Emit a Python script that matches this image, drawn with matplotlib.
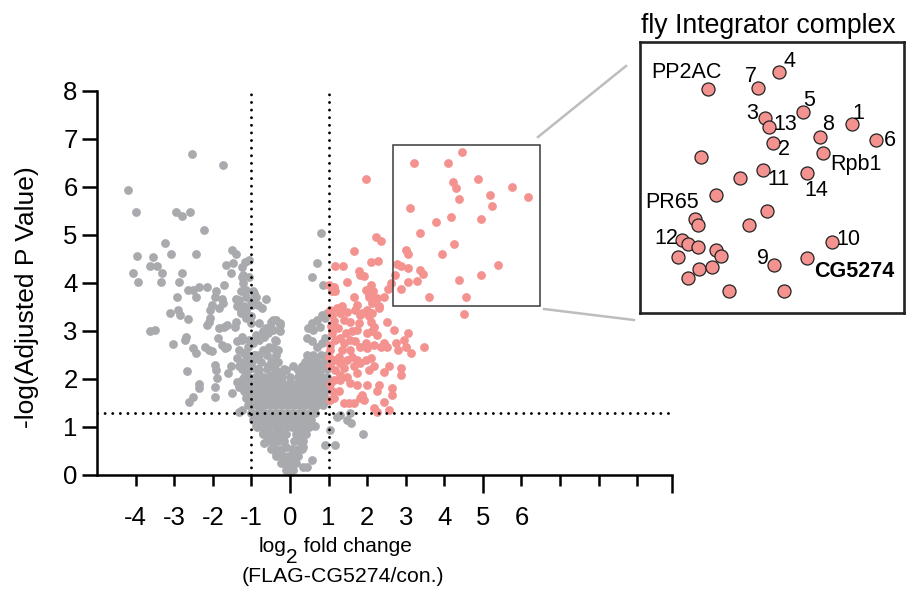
import matplotlib.pyplot as plt
from matplotlib.patches import Rectangle
from matplotlib.lines import Line2D

plt.rcParams['font.family'] = ['Liberation Sans', 'DejaVu Sans']

# not significant, spread out (log2 FC, -log p)
ns_spread = [
    (-2.53, 6.69), (-1.74, 6.46), (-4.19, 5.93), (-3.99, 5.48), (-2.94, 5.48), (-2.80, 5.40),
    (-2.60, 5.48), (-2.23, 5.10), (-3.25, 4.83), (-3.96, 4.56), (-3.56, 4.54), (-3.09, 4.60),
    (-2.43, 4.61), (-1.49, 4.68), (-1.39, 4.60), (-3.62, 4.36), (-3.45, 4.36), (-1.67, 4.37),
    (-1.47, 4.41), (-1.16, 4.44), (-1.05, 4.48), (-4.06, 4.20), (-3.31, 4.21), (-2.80, 4.21),
    (-1.54, 4.21), (-1.22, 4.17), (-3.93, 4.01), (-3.35, 4.01), (-2.87, 4.01), (-2.64, 3.85),
    (-2.51, 3.85), (-2.36, 3.92), (-2.14, 3.92), (-1.92, 3.82), (-1.70, 3.96), (-1.23, 4.13),
    (-1.21, 3.99), (-1.27, 3.82), (-0.97, 3.82), (-0.88, 3.71), (-0.62, 3.66), (-2.93, 3.71),
    (-2.43, 3.70), (-1.93, 3.71), (-1.75, 3.66), (-1.40, 3.66), (-1.32, 3.65), (-1.14, 3.71),
    (-1.01, 3.63), (-2.02, 3.54), (-2.08, 3.44), (-1.84, 3.47), (-1.74, 3.58), (-2.89, 3.44),
    (-2.84, 3.33), (-3.10, 3.37), (-2.63, 3.24), (-1.36, 3.51), (-1.27, 3.40), (-1.14, 3.44),
    (-0.98, 3.54), (-0.72, 3.47), (-2.10, 3.19), (-2.06, 3.26), (-2.15, 3.13), (-1.84, 3.06),
    (-1.71, 3.09), (-1.62, 3.13), (-1.40, 3.19), (-1.42, 3.09), (-1.14, 3.26), (-1.01, 3.16),
    (-0.79, 3.16), (-0.62, 3.06), (-0.45, 3.23), (-0.27, 3.16), (-0.49, 3.06), (-3.63, 2.99),
    (-3.50, 3.02), (-3.04, 2.72), (-2.73, 2.81), (-2.70, 2.88), (-2.51, 2.64), (-2.43, 2.55),
    (-2.19, 2.67), (-2.10, 2.60), (-2.02, 2.59), (-1.86, 2.85), (-1.75, 2.71), (-1.68, 2.64),
    (-1.62, 2.67), (-1.36, 2.78), (-1.32, 2.60), (-1.10, 2.67), (-1.05, 2.81), (-1.23, 2.88),
    (-0.88, 2.92), (-0.79, 2.81), (-0.66, 2.88), (-0.53, 2.99), (-0.40, 2.81), (-0.27, 2.99),
    (-0.45, 2.64), (-0.62, 2.60), (-0.79, 2.50), (-1.10, 2.50), (-0.97, 2.40), (-1.19, 2.36),
    (-1.36, 2.43), (-1.32, 2.26), (-1.93, 2.29), (-1.91, 2.19), (-1.88, 2.01), (-1.93, 1.84),
    (-1.60, 2.12), (-1.53, 2.26), (-2.67, 2.17), (-2.35, 1.90), (-2.36, 1.81), (-2.52, 1.63),
    (-2.61, 1.53), (-1.93, 1.62), (-1.49, 1.70), (-1.36, 1.94), (-1.32, 1.84), (-1.14, 1.70),
    (-1.10, 1.88), (-1.32, 1.32), (-0.92, 1.74), (-0.88, 1.63), (-1.01, 1.56), (-0.79, 2.05),
    (-0.62, 1.98), (-0.45, 1.84), (-0.27, 2.12), (-0.09, 2.19), (0.08, 2.26), (0.21, 2.19),
    (-1.23, 4.34), (-1.05, 4.13), (-1.14, 3.85), (-0.92, 3.78), (-0.97, 3.65), (-0.84, 3.54),
    (-1.19, 3.51), (-1.27, 3.37), (-1.01, 3.30), (-0.49, 3.19), (-0.36, 3.23), (-0.27, 3.13),
    (-0.45, 3.02), (-0.58, 2.95), (-0.71, 2.99), (-0.84, 2.85), (-0.97, 2.74), (-1.23, 2.81),
    (-1.19, 2.54), (-0.92, 2.50), (-0.71, 2.60), (-0.53, 2.67), (-0.36, 2.78), (-0.31, 2.60),
    (-0.45, 2.40), (-0.58, 2.26), (-0.79, 2.19), (-0.97, 2.22), (-1.14, 2.19), (-1.23, 1.98),
    (-1.05, 1.84), (-0.84, 1.98), (-0.62, 2.01), (-0.45, 2.08), (-0.27, 2.15), (-0.23, 1.98),
    (-0.36, 1.84), (-0.53, 1.70), (-0.71, 1.63), (-0.88, 1.56), (-1.05, 1.49), (-1.23, 1.35),
    (-0.79, 1.42), (-0.58, 1.21), (-0.79, 1.15), (-0.88, 1.01), (-0.71, 0.87), (-0.66, 0.66),
    (-0.49, 0.73), (-0.36, 1.01), (-0.27, 1.21), (-0.18, 0.80), (-0.09, 0.59), (-0.05, 0.31),
    (-0.18, 0.24), (-0.36, 0.45), (-0.45, 0.59), (0.00, 0.04),
    (0.71, 4.41), (0.56, 4.13), (0.86, 3.96), (0.80, 5.03), (0.82, 3.33), (0.69, 3.23),
    (0.56, 3.16), (0.47, 3.06), (0.60, 3.02), (0.78, 3.09), (0.91, 3.26), (0.97, 3.37),
    (0.43, 2.85), (0.56, 2.78), (0.69, 2.67), (0.82, 2.74), (0.91, 2.85), (0.30, 2.26),
    (0.38, 2.12), (0.25, 1.98), (0.43, 2.40), (0.60, 2.46), (0.73, 2.33), (0.86, 2.26),
    (0.56, 2.19), (0.78, 2.08), (0.91, 1.98), (0.34, 1.77), (0.47, 1.63), (0.25, 1.56),
    (0.60, 1.70), (0.86, 1.74), (0.97, 1.84), (0.78, 1.49), (0.65, 1.42), (0.95, 1.56),
    (1.21, 1.21), (1.30, 1.25), (1.56, 1.29), (1.58, 1.08), (1.48, 1.15), (1.90, 0.85),
    (1.17, 0.63), (0.91, 0.63), (1.04, 0.94), (0.65, 1.01), (0.34, 0.59), (0.34, 0.17),
    (0.56, 0.31), (0.43, 0.17),
]

# not significant, dense V near the origin
ns_core = [
    (-0.10, 0.10), (0.00, 0.10), (0.08, 0.10),
    (-0.22, 0.25), (-0.10, 0.25), (0.05, 0.25), (0.15, 0.25),
    (-0.35, 0.40), (-0.20, 0.40), (-0.05, 0.40), (0.10, 0.40), (0.22, 0.40),
    (-0.50, 0.55), (-0.35, 0.55), (-0.20, 0.55), (0.05, 0.55), (0.20, 0.55), (0.30, 0.55),
    (-0.60, 0.70), (-0.45, 0.70), (-0.30, 0.70), (-0.15, 0.70), (0.10, 0.70), (0.25, 0.70),
    (0.35, 0.70),
    (-0.70, 0.85), (-0.55, 0.85), (-0.40, 0.85), (-0.25, 0.85), (-0.10, 0.85), (0.15, 0.85),
    (0.30, 0.85), (0.42, 0.85),
    (-0.85, 1.00), (-0.70, 1.00), (-0.55, 1.00), (-0.40, 1.00), (-0.25, 1.00), (-0.10, 1.00),
    (0.05, 1.00), (0.20, 1.00), (0.35, 1.00), (0.50, 1.00),
    (-0.95, 1.15), (-0.80, 1.15), (-0.65, 1.15), (-0.50, 1.15), (-0.35, 1.15), (-0.20, 1.15),
    (-0.05, 1.15), (0.10, 1.15), (0.25, 1.15), (0.40, 1.15), (0.55, 1.15),
    (-1.00, 1.30), (-0.85, 1.30), (-0.70, 1.30), (-0.55, 1.30), (-0.40, 1.30), (-0.25, 1.30),
    (-0.10, 1.30), (0.05, 1.30), (0.20, 1.30), (0.35, 1.30), (0.50, 1.30), (0.65, 1.30),
    (-1.10, 1.45), (-0.95, 1.45), (-0.80, 1.45), (-0.65, 1.45), (-0.50, 1.45), (-0.35, 1.45),
    (-0.20, 1.45), (-0.05, 1.45), (0.10, 1.45), (0.25, 1.45), (0.40, 1.45), (0.55, 1.45),
    (0.70, 1.45), (0.85, 1.45),
    (-1.15, 1.60), (-1.00, 1.60), (-0.85, 1.60), (-0.70, 1.60), (-0.55, 1.60), (-0.40, 1.60),
    (-0.25, 1.60), (-0.10, 1.60), (0.05, 1.60), (0.20, 1.60), (0.35, 1.60), (0.50, 1.60),
    (0.65, 1.60), (0.80, 1.60), (0.92, 1.60),
    (-1.20, 1.75), (-1.05, 1.75), (-0.90, 1.75), (-0.75, 1.75), (-0.60, 1.75), (-0.45, 1.75),
    (-0.30, 1.75), (-0.15, 1.75), (0.00, 1.75), (0.15, 1.75), (0.30, 1.75), (0.45, 1.75),
    (0.60, 1.75), (0.75, 1.75), (0.90, 1.75),
    (-1.25, 1.90), (-1.10, 1.90), (-0.95, 1.90), (-0.80, 1.90), (-0.65, 1.90), (-0.50, 1.90),
    (-0.35, 1.90), (-0.20, 1.90), (-0.05, 1.90), (0.10, 1.90), (0.25, 1.90), (0.40, 1.90),
    (0.55, 1.90), (0.70, 1.90), (0.85, 1.90),
    (-1.20, 2.05), (-1.05, 2.05), (-0.90, 2.05), (-0.70, 2.05), (-0.55, 2.05), (-0.40, 2.05),
    (-0.20, 2.05), (0.00, 2.05), (0.20, 2.05), (0.35, 2.05), (0.50, 2.05), (0.65, 2.05),
    (0.80, 2.05), (0.95, 2.05),
    (-1.25, 2.20), (-1.05, 2.20), (-0.85, 2.20), (-0.60, 2.20), (-0.40, 2.20), (-0.15, 2.20),
    (0.35, 2.20), (0.50, 2.20), (0.65, 2.20), (0.80, 2.20), (0.95, 2.20),
    (-1.20, 2.35), (-1.00, 2.35), (-0.75, 2.35), (-0.50, 2.35), (-0.30, 2.35), (0.40, 2.35),
    (0.55, 2.35), (0.70, 2.35), (0.90, 2.35),
    (-1.15, 2.50), (-0.90, 2.50), (-0.60, 2.50), (-0.35, 2.50), (0.45, 2.50), (0.60, 2.50),
    (0.80, 2.50), (0.97, 2.50),
]

# significant hits outside the zoom box
sig = [
    (1.98, 6.17), (2.22, 4.96), (2.36, 4.88), (1.65, 4.67), (2.10, 4.43), (2.29, 4.46),
    (1.17, 4.35), (1.38, 4.35), (1.79, 4.24), (1.91, 4.15), (1.81, 4.17), (1.48, 4.01),
    (1.02, 3.96), (1.15, 3.92), (1.16, 3.82), (1.09, 3.84), (2.10, 3.95), (1.96, 3.85),
    (2.16, 3.83), (2.06, 3.77), (1.65, 3.71), (2.43, 3.71), (2.54, 3.88), (2.63, 3.99),
    (2.31, 3.47), (2.13, 3.58), (2.16, 3.68), (1.74, 3.54), (1.35, 3.51), (1.21, 3.47),
    (1.48, 3.40), (1.87, 3.37), (2.04, 3.30), (4.51, 3.35), (1.04, 3.40), (1.08, 3.33),
    (2.04, 3.71), (2.26, 3.68), (1.04, 3.44), (1.30, 3.37), (1.69, 3.44), (1.82, 3.33),
    (1.39, 3.23), (1.56, 3.19), (1.78, 3.16), (2.00, 3.44), (2.13, 3.37), (2.30, 3.51),
    (2.09, 3.19), (2.17, 3.09), (2.13, 2.99), (2.00, 2.95), (2.52, 3.19), (2.70, 3.02),
    (3.05, 2.95), (1.74, 3.02), (2.26, 2.92), (2.43, 2.74),
    (1.04, 2.71), (1.17, 2.81), (1.30, 2.85), (1.39, 2.74), (1.56, 2.81), (1.69, 2.78),
    (1.82, 2.67), (1.96, 2.74), (2.00, 2.64), (2.17, 2.71), (2.35, 2.67), (2.52, 2.67),
    (2.74, 2.74), (2.96, 2.81), (3.00, 2.67), (3.48, 2.67), (3.13, 2.54), (2.79, 2.60),
    (1.02, 2.46), (1.13, 2.40), (1.26, 2.46), (1.30, 2.33), (1.04, 2.26), (1.17, 2.19),
    (1.39, 2.22), (1.48, 2.40), (1.61, 2.46), (1.74, 2.40), (1.65, 2.26), (1.82, 2.33),
    (1.96, 2.40), (2.09, 2.43), (2.17, 2.26), (2.04, 2.19), (1.74, 2.12), (1.30, 2.08),
    (1.13, 1.98), (1.30, 1.98), (1.48, 2.05), (1.56, 1.91),
    (2.43, 2.15), (2.57, 2.26), (2.87, 2.22), (2.87, 2.08), (2.30, 1.88), (2.26, 1.74),
    (1.74, 1.88), (2.00, 1.88), (1.87, 1.67), (1.91, 1.56), (2.65, 1.81), (2.65, 1.67),
    (1.04, 1.56), (1.26, 1.74), (1.39, 1.49), (1.52, 1.49), (1.65, 1.49), (1.82, 1.60),
    (2.17, 1.39), (2.26, 1.32), (2.43, 1.53), (2.57, 1.35),
    (1.06, 3.10), (1.10, 2.95), (1.05, 2.60), (1.15, 3.20), (1.25, 3.05), (1.45, 2.95),
    (1.60, 3.00), (1.35, 2.60), (1.55, 2.60), (1.08, 1.75), (1.15, 1.60), (1.05, 1.90),
]

# points inside the zoom box (fly Integrator complex panel)
complex_pts = [
    (3.22, 6.49), (4.10, 6.50), (4.47, 6.72), (4.88, 6.17), (4.22, 6.09), (4.30, 5.97),
    (5.75, 6.00), (5.18, 5.82), (6.16, 5.78), (4.37, 5.75), (5.23, 5.60), (3.10, 5.55),
    (4.18, 5.37), (4.95, 5.33), (3.79, 5.26), (3.36, 5.03), (4.26, 4.81), (3.00, 4.69),
    (3.05, 4.61), (3.95, 4.61), (2.77, 4.40), (2.87, 4.35), (3.05, 4.31), (3.37, 4.27),
    (3.45, 4.19), (5.39, 4.38), (2.71, 4.17), (4.38, 4.06), (4.95, 4.16), (3.07, 4.01),
    (3.30, 4.03), (2.88, 3.88), (3.60, 3.70), (4.55, 3.70),
]
complex_names = [
    'PP2AC', '7', '4', '5', '3', '13', '1', '8', '6', '2', 'Rpb1', '',
    '11', '14', '', '', '', 'PR65', '', '', '12', '', '', '',
    '', '10', '', '9', 'CG5274', '', '', '', '', '',
]

# label offsets in points (dx, dy)
label_offset = {
    'PP2AC': (-15, 11.5), '7': (-5, 8.3), '4': (7.6, 7.8), '5': (4.7, 8.6),
    '3': (-9, 3.2), '13': (11.5, 1.3), '1': (4.2, 8.1), '8': (6.2, 9.1),
    '6': (10.3, -0.4), '2': (7.7, -5.3), 'Rpb1': (24, -8.3), '11': (11.5, -6.8),
    '14': (7.2, -12.5), 'PR65': (-16.2, 12.4), '12': (-11.5, 1.2), '10': (11.8, 1.4),
    '9': (-8.1, 4.5), 'CG5274': (34, -9.9),
}

gray = '#A9AAAD'
salmon = '#F3928F'
x_tick_labels = ['-4', '-3', '-2', '-1', '0', '1', '2', '3', '4', '5', '6']

fig = plt.figure(figsize=(9.06, 6.02), dpi=100)
ax = fig.add_axes([97 / 906, 1 - 475 / 602, 575 / 906, 384.3 / 602])

gx = [p[0] for p in ns_spread + ns_core]
gy = [p[1] for p in ns_spread + ns_core]
ax.scatter(gx, gy, s=40, color=gray, linewidths=0, zorder=2)
sx = [p[0] for p in sig + complex_pts]
sy = [p[1] for p in sig + complex_pts]
ax.scatter(sx, sy, s=40, color=salmon, linewidths=0, zorder=2)

dots = (0, (0.01, 2.6))
for xv in (-1, 1):
    ax.axvline(xv, color='black', lw=2.1, linestyle=dots, dash_capstyle='round', zorder=3)
ax.axhline(1.3, color='black', lw=2.1, linestyle=dots, dash_capstyle='round', zorder=3)

ax.add_patch(Rectangle((2.68, 3.52), 3.80, 3.355, fill=False, edgecolor='#3a3a3a', lw=1.1, zorder=4))

ax.set_xlim(-5, 9.9)
ax.set_ylim(0, 8)
for s in ('top', 'right'):
    ax.spines[s].set_visible(False)
for s in ('left', 'bottom'):
    ax.spines[s].set_linewidth(1.8)

ax.set_yticks(range(0, 9))
ax.tick_params(axis='y', length=10.5, width=1.8, pad=3.5, labelsize=18.5)

major_x = [0, 5, 9.9]
minor_x = [-4, -3, -2, -1, 1, 2, 3, 4, 6, 7, 8, 9]
ax.set_xticks(major_x)
ax.set_xticklabels([x_tick_labels[4], x_tick_labels[9], ''])
ax.set_xticks(minor_x, minor=True)
ax.set_xticklabels(x_tick_labels[:4] + x_tick_labels[5:9] + [x_tick_labels[10], '', '', ''], minor=True)
ax.tick_params(axis='x', which='major', length=13, width=1.8, pad=9.5, labelsize=18.5)
ax.tick_params(axis='x', which='minor', length=8, width=1.8, pad=14.5, labelsize=18.5)

# x label: "log2 fold change" with a full-size lowered 2, then the ratio line
r = fig.canvas.get_renderer()
parts = [('log', 0), ('2', -11), (' fold change', 0)]
texts = []
for txt, dy in parts:
    texts.append((fig.text(0, 0, txt, fontsize=15, ha='left', va='baseline'), dy))
widths = [t.get_window_extent(r).width for t, _ in texts]
x0 = 335 - sum(widths) / 2
for (t, dy), w in zip(texts, widths):
    t.set_position((x0 / 906, 1 - (552 - dy) / 602))
    x0 += w
fig.text(343 / 906, 1 - 582 / 602, '(FLAG-CG5274/con.)', ha='center', va='baseline', fontsize=15.3)
fig.text(27 / 906, 1 - 297 / 602, '-log(Adjusted P Value)', rotation=90, ha='center', va='center', fontsize=19)

# zoomed panel
ins = fig.add_axes([640 / 906, 1 - 313 / 602, 264 / 906, 271.3 / 602])
cx = [p[0] for p in complex_pts]
cy = [p[1] for p in complex_pts]
ins.scatter(cx, cy, s=88, color=salmon, edgecolors='#222222', linewidths=0.9, zorder=3)
for (px, py), name in zip(complex_pts, complex_names):
    if not name:
        continue
    ins.annotate(name, (px, py), xytext=label_offset[name], textcoords='offset points',
                 ha='center', va='center', fontsize=15.5,
                 fontweight='bold' if name == 'CG5274' else 'normal')
ins.set_xlim(2.04, 6.65)
ins.set_ylim(3.40, 7.14)
ins.set_xticks([])
ins.set_yticks([])
for s in ins.spines.values():
    s.set_linewidth(1.9)
    s.set_color('#222222')

fig.text(641 / 906, 1 - 33 / 602, 'fly Integrator complex', ha='left', va='baseline', fontsize=19.2)

# connector lines from box to panel
fig.add_artist(Line2D([538 / 906, 626 / 906], [1 - 137 / 602, 1 - 66 / 602], color='#BDBDBD', lw=1.8))
fig.add_artist(Line2D([544 / 906, 634 / 906], [1 - 309 / 602, 1 - 320 / 602], color='#BDBDBD', lw=1.8))

fig.savefig('out.png', dpi=100)
